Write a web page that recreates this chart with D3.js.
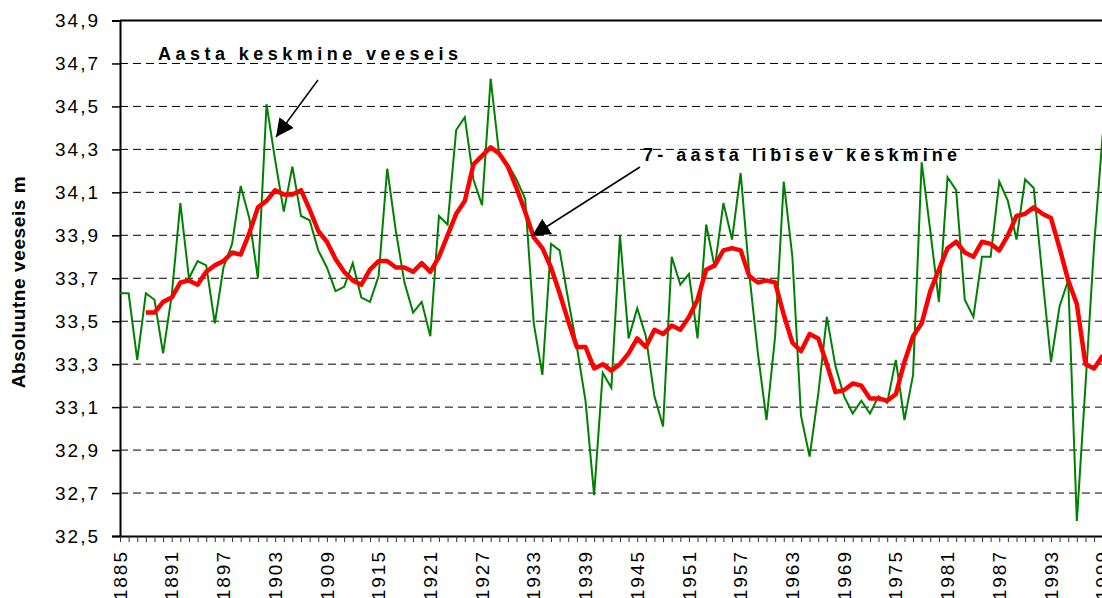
<!DOCTYPE html>
<html>
<head>
<meta charset="utf-8">
<script src="https://cdn.jsdelivr.net/npm/d3@7"></script>
<style>
  body { margin: 0; background: #fff; }
  svg { display: block; font-family: "Liberation Sans", Arial, sans-serif; }
</style>
</head>
<body>
<div class="canvas"></div>
<script>
// annual mean water level, 1885..1999
const firstYear = 1885;
const annual = [
  33.63, 33.63, 33.32, 33.63, 33.60, 33.35, 33.62, 34.05, 33.70, 33.78,
  33.76, 33.49, 33.75, 33.86, 34.13, 33.98, 33.70, 34.51, 34.25, 34.01,
  34.22, 33.99, 33.97, 33.83, 33.75, 33.64, 33.66, 33.77, 33.61, 33.59,
  33.71, 34.21, 33.92, 33.68, 33.54, 33.59, 33.43, 33.99, 33.95, 34.39,
  34.45, 34.16, 34.04, 34.63, 34.27, 34.23, 34.16, 34.07, 33.49, 33.25,
  33.86, 33.83, 33.60, 33.38, 33.13, 32.69, 33.26, 33.19, 33.90, 33.42,
  33.56, 33.43, 33.15, 33.01, 33.80, 33.67, 33.72, 33.42, 33.95, 33.75,
  34.05, 33.88, 34.19, 33.72, 33.35, 33.04, 33.43, 34.15, 33.80, 33.06,
  32.87, 33.16, 33.52, 33.29, 33.15, 33.07, 33.13, 33.07, 33.15, 33.12,
  33.32, 33.04, 33.25, 34.24, 33.92, 33.59, 34.17, 34.11, 33.60, 33.52,
  33.80, 33.80, 34.15, 34.06, 33.88, 34.16, 34.12, 33.71, 33.31, 33.57,
  33.69, 32.57, 33.20, 33.85, 34.37
];

// 7-year moving average, 1888..1999
const maFirstYear = 1888;
const movingAvg = [
  33.54, 33.54, 33.59, 33.61, 33.68, 33.69, 33.67, 33.73, 33.76, 33.78,
  33.82, 33.81, 33.91, 34.03, 34.06, 34.11, 34.09, 34.09, 34.11, 34.02,
  33.92, 33.87, 33.79, 33.73, 33.69, 33.67, 33.74, 33.78, 33.78, 33.75,
  33.75, 33.73, 33.77, 33.73, 33.80, 33.90, 34.00, 34.06, 34.23, 34.27,
  34.31, 34.28, 34.22, 34.12, 34.01, 33.89, 33.84, 33.75, 33.63, 33.50,
  33.38, 33.38, 33.28, 33.30, 33.27, 33.30, 33.35, 33.42, 33.38, 33.46,
  33.44, 33.48, 33.46, 33.52, 33.60, 33.74, 33.76, 33.83, 33.84, 33.83,
  33.71, 33.68, 33.69, 33.68, 33.53, 33.40, 33.36, 33.44, 33.42, 33.30,
  33.17, 33.18, 33.21, 33.20, 33.14, 33.14, 33.13, 33.16, 33.31, 33.43,
  33.49, 33.64, 33.74, 33.84, 33.87, 33.82, 33.80, 33.87, 33.86, 33.83,
  33.90, 33.99, 34.00, 34.03, 34.00, 33.98, 33.84, 33.69, 33.58, 33.30,
  33.28, 33.34
];

const yTickValues = [32.5, 32.7, 32.9, 33.1, 33.3, 33.5, 33.7, 33.9, 34.1, 34.3, 34.5, 34.7, 34.9];
const xLabelYears = [1885, 1891, 1897, 1903, 1909, 1915, 1921, 1927, 1933, 1939,
                     1945, 1951, 1957, 1963, 1969, 1975, 1981, 1987, 1993, 1999];
const yTitle = "Absoluutne veeseis m";
const noteAnnual = "Aasta keskmine veeseis";
const noteMA = "7- aasta libisev keskmine";

const width = 1102;
const height = 598;
const marginLeft = 120;
const plotRight = 1102.7;
const plotTop = 20.5;
const plotBottom = 536;

const annualData = annual.map((v, i) => ({ year: firstYear + i, value: v }));
const maData = movingAvg.map((v, i) => ({ year: maFirstYear + i, value: v }));
const allYears = d3.range(firstYear, firstYear + annual.length);

const x = d3.scaleLinear()
  .domain([1885, 1999])
  .range([marginLeft, plotRight]);

const y = d3.scaleLinear()
  .domain([32.5, 34.9])
  .range([plotBottom, plotTop]);

const svg = d3.select(".canvas").append("svg")
  .attr("width", width)
  .attr("height", height);

// dashed grid
svg.append("g")
  .selectAll("line")
  .data(yTickValues.slice(1, -1))
  .join("line")
    .attr("x1", marginLeft)
    .attr("x2", width)
    .attr("y1", d => y(d))
    .attr("y2", d => y(d))
    .attr("stroke", "#000")
    .attr("stroke-width", 1)
    .attr("stroke-dasharray", "8,5");

// top border
svg.append("line")
  .attr("x1", marginLeft).attr("x2", width)
  .attr("y1", plotTop).attr("y2", plotTop)
  .attr("stroke", "#000").attr("stroke-width", 2);

// y axis
const gy = svg.append("g")
  .attr("transform", translate(marginLeft, 0))
  .call(d3.axisLeft(y)
    .tickValues(yTickValues)
    .tickSize(8)
    .tickPadding(12)
    .tickFormat(d => d.toFixed(1).replace(".", ",")));
gy.select(".domain").attr("stroke-width", 2);
gy.selectAll(".tick line").attr("stroke-width", 1.5);
gy.selectAll(".tick text")
  .attr("font-size", 19)
  .attr("letter-spacing", "2px")
  .attr("fill", "#000");

// x axis
const gx = svg.append("g")
  .attr("transform", translate(0, plotBottom))
  .call(d3.axisBottom(x)
    .tickValues(allYears)
    .tickSize(6)
    .tickSizeOuter(0)
    .tickFormat(""));
gx.select(".domain").attr("stroke-width", 2);
gx.selectAll(".tick line").attr("stroke", "#333");

svg.append("g")
  .selectAll("text")
  .data(xLabelYears)
  .join("text")
    .attr("transform", d => translate(x(d), plotBottom + 14) + " rotate(-90)")
    .attr("text-anchor", "end")
    .attr("dy", "0.35em")
    .attr("font-size", 19)
    .attr("letter-spacing", "2px")
    .text(d => d);

// y axis title
svg.append("text")
  .attr("transform", translate(25, 282) + " rotate(-90)")
  .attr("text-anchor", "middle")
  .attr("font-size", 19)
  .attr("font-weight", "bold")
  .attr("letter-spacing", "0.6px")
  .text(yTitle);

const line = d3.line()
  .x(d => x(d.year))
  .y(d => y(d.value));

svg.append("path")
  .datum(annualData)
  .attr("fill", "none")
  .attr("stroke", "#008000")
  .attr("stroke-width", 2)
  .attr("stroke-linejoin", "miter")
  .attr("d", line);

svg.append("path")
  .datum(maData)
  .attr("fill", "none")
  .attr("stroke", "#ff0000")
  .attr("stroke-width", 4.5)
  .attr("stroke-linejoin", "round")
  .attr("d", line);

// annotations
svg.append("defs").append("marker")
  .attr("id", "head")
  .attr("viewBox", "0 0 10 10")
  .attr("refX", 10).attr("refY", 5)
  .attr("markerWidth", 18).attr("markerHeight", 18)
  .attr("markerUnits", "userSpaceOnUse")
  .attr("orient", "auto")
  .append("path")
    .attr("d", "M0,0 L10,5 L0,10 Z")
    .attr("fill", "#000");

svg.append("text")
  .attr("x", 158).attr("y", 60)
  .attr("font-size", 18).attr("font-weight", "bold")
  .attr("textLength", 300).attr("lengthAdjust", "spacing")
  .text(noteAnnual);

svg.append("line")
  .attr("x1", 318).attr("y1", 80)
  .attr("x2", 276).attr("y2", 137)
  .attr("stroke", "#000").attr("stroke-width", 1.5)
  .attr("marker-end", "url(#head)");

svg.append("text")
  .attr("x", 643).attr("y", 161)
  .attr("font-size", 18).attr("font-weight", "bold")
  .attr("textLength", 314).attr("lengthAdjust", "spacing")
  .text(noteMA);

svg.append("line")
  .attr("x1", 640).attr("y1", 167)
  .attr("x2", 532).attr("y2", 236)
  .attr("stroke", "#000").attr("stroke-width", 1.5)
  .attr("marker-end", "url(#head)");

function translate(x, y) {
  return "translate(" + x + "," + y + ")";
}
</script>
</body>
</html>
